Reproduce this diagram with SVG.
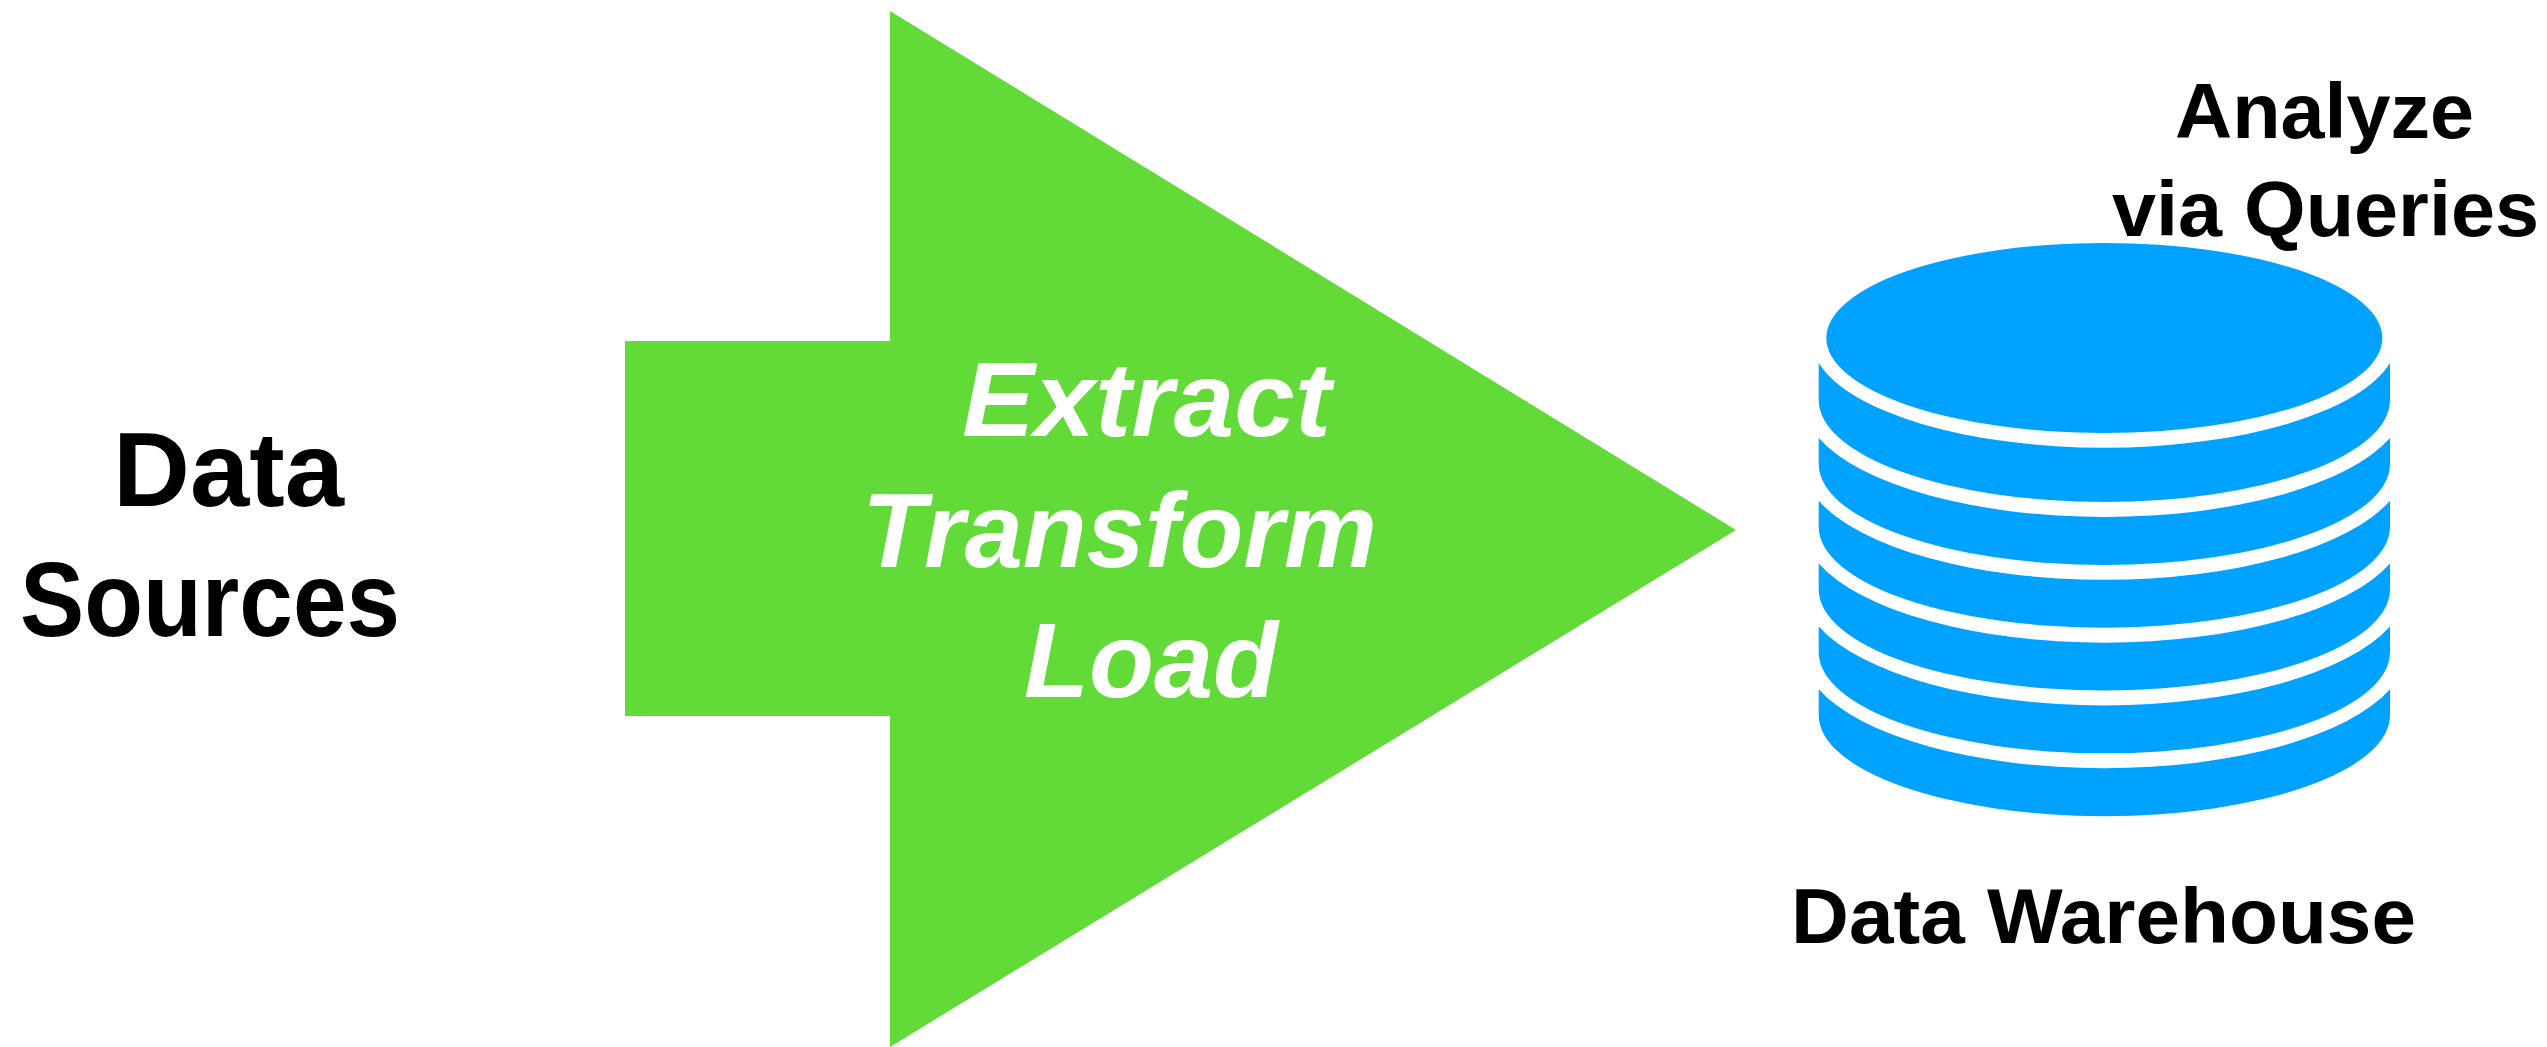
<svg xmlns="http://www.w3.org/2000/svg" width="2547" height="1047" viewBox="0 0 2547 1047">
<style>
text{font-family:"Liberation Sans",Arial,sans-serif;font-weight:700;fill:#000}
.big{font-size:105px}
.mid{font-size:78px}
.w{font-size:105px;font-style:italic;fill:#fff}
.b{fill:#00a2ff}
</style>
<defs>
<path id="layer" class="b" d="M1818.7 438V464A285.65 101 0 0 0 2390 464V438A302 117 0 0 1 1818.7 438Z"/>
</defs>
<rect width="2547" height="1047" fill="#fff"/>
<g id="etl"><polygon points="890,11 1736,530 890,1047 890,716 625,716 625,341 890,341" fill="#62da37"/>
<text class="w" x="962" y="436" textLength="369" lengthAdjust="spacingAndGlyphs">Extract</text>
<text class="w" x="862" y="567" textLength="515" lengthAdjust="spacingAndGlyphs">Transform</text>
<text class="w" x="1024" y="697" textLength="254" lengthAdjust="spacingAndGlyphs">Load</text></g>
<g id="sources"><text class="big" x="113" y="506" textLength="231" lengthAdjust="spacingAndGlyphs">Data</text><text class="big" x="20" y="636" textLength="380" lengthAdjust="spacingAndGlyphs">Sources</text></g>
<g id="warehouse">
<ellipse class="b" cx="2104.3" cy="338" rx="278" ry="95"/>
<path class="b" d="M1818.7 363V400A285.65 102 0 0 0 2390 400V363A293 109 0 0 1 1818.7 363Z"/>
<use href="#layer"/><use href="#layer" y="62.8"/><use href="#layer" y="125.6"/><use href="#layer" y="188.4"/><use href="#layer" y="251.2"/>
<text class="mid" x="1791" y="943" textLength="625" lengthAdjust="spacingAndGlyphs">Data Warehouse</text></g>
<g id="analyze"><text class="mid" x="2175" y="138" textLength="299" lengthAdjust="spacingAndGlyphs">Analyze</text><text class="mid" x="2112" y="236" textLength="427" lengthAdjust="spacingAndGlyphs">via Queries</text></g>
<g id="connectors"/>
</svg>
